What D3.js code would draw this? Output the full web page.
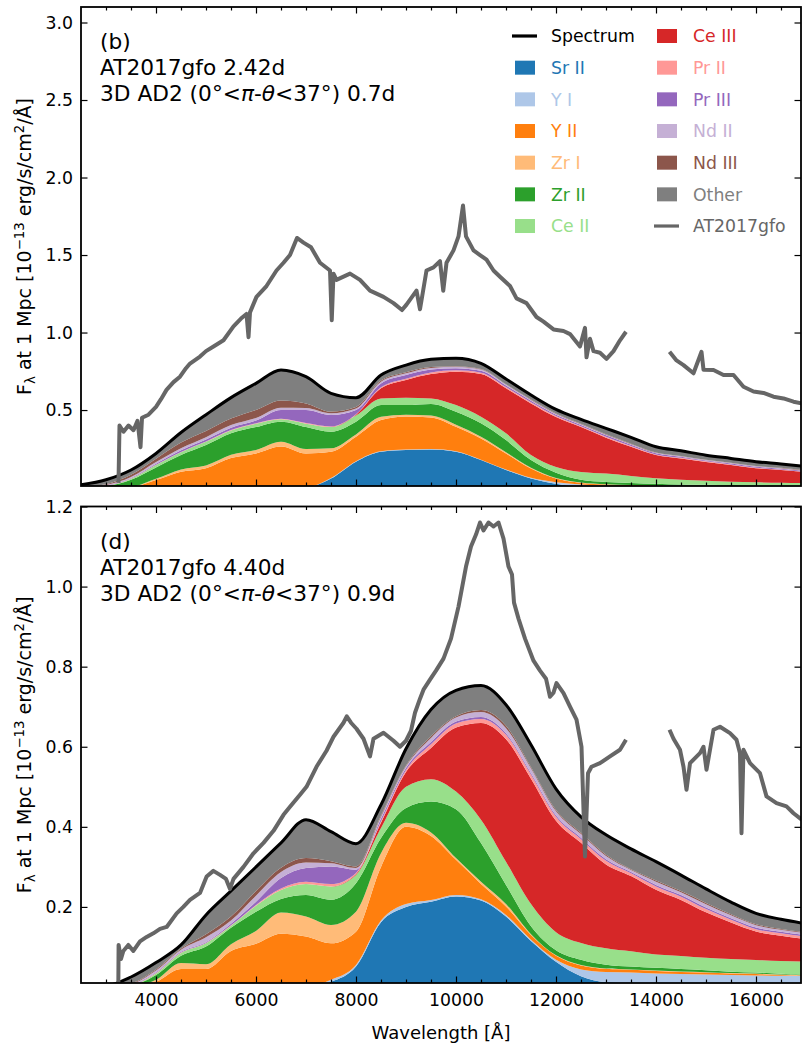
<!DOCTYPE html>
<html>
<head>
<meta charset="utf-8">
<title>Spectra decomposition</title>
<script src="https://d3js.org/d3.v7.min.js"></script>
<style>
body { margin: 0; background: #fff; }
svg text { font-family: "DejaVu Sans", Verdana, sans-serif; }
.tick text { font-size: 17.3px; }
</style>
</head>
<body>
<svg id="chart" width="802" height="1047"></svg>
<script>
// model wavelength grid (Angstrom)
var wave = [2500, 3000, 3500, 4000, 4500, 5000, 5500, 6000, 6500, 7000,
            7500, 8000, 8500, 9000, 9500, 10000, 10500, 11000, 11500, 12000,
            12500, 13000, 13500, 14000, 14500, 15000, 15500, 16000, 16500, 17000];

var ions = ["Sr II", "Y I", "Y II", "Zr I", "Zr II", "Ce II", "Ce III", "Pr II", "Pr III", "Nd II", "Nd III", "Other"];
var ionColors = ["#1f77b4", "#aec7e8", "#ff7f0e", "#ffbb78", "#2ca02c", "#98df8a",
                 "#d62728", "#ff9896", "#9467bd", "#c5b0d5", "#8c564b", "#7f7f7f"];

// panel (b): contribution of each ion, 1e-13 erg/s/cm2/A
var srII_b   = [0,0,0,0,0,0,0,0,0,0.002,0.058,0.167,0.231,0.242,0.246,0.231,0.177,0.113,0.059,0.025,0.005,0.001,0,0,0,0,0,0,0,0];
var yI_b     = [0,0,0,0,0,0,0,0,0,0,0.003,0.003,0.003,0.003,0.003,0.003,0.003,0.004,0.005,0.010,0.015,0.011,0.010,0.009,0.008,0.007,0.006,0.006,0.005,0.005];
var yII_b    = [0,0,0.003,0.048,0.102,0.125,0.190,0.220,0.265,0.218,0.170,0.158,0.201,0.213,0.203,0.158,0.137,0.103,0.059,0.023,0.010,0.008,0.006,0.004,0.003,0.003,0.003,0.002,0.002,0.002];
var zrI_b    = [0,0,0.002,0.008,0.015,0.018,0.022,0.022,0.030,0.028,0.022,0.015,0.021,0.011,0.012,0.013,0.011,0.008,0.005,0.004,0.002,0.001,0.001,0.001,0.001,0.001,0.001,0.001,0.001,0.001];
var zrII_b   = [0.002,0.010,0.045,0.074,0.093,0.131,0.138,0.148,0.130,0.142,0.107,0.082,0.076,0.063,0.075,0.084,0.086,0.078,0.049,0.033,0.018,0.015,0.013,0.011,0.008,0.007,0.006,0.005,0.004,0.003];
var ceII_b   = [0,0.002,0.007,0.015,0.018,0.021,0.018,0.022,0.015,0.022,0.030,0.040,0.043,0.048,0.036,0.043,0.043,0.044,0.033,0.037,0.050,0.054,0.045,0.035,0.030,0.026,0.022,0.020,0.019,0.018];
var ceIII_b  = [0,0,0,0,0,0,0,0,0,0,0,0.005,0.065,0.114,0.157,0.215,0.275,0.290,0.333,0.323,0.290,0.232,0.188,0.150,0.138,0.121,0.107,0.090,0.082,0.069];
var prII_b   = [0,0,0.001,0.002,0.002,0.002,0.003,0.003,0.004,0.004,0.004,0.003,0.007,0.008,0.010,0.009,0.009,0.008,0.007,0.007,0.006,0.006,0.005,0.004,0.004,0.004,0.004,0.004,0.003,0.003];
var prIII_b  = [0,0.003,0.004,0.006,0.010,0.013,0.015,0.017,0.056,0.084,0.074,0.027,0.025,0.024,0.019,0.014,0.012,0.010,0.010,0.008,0.008,0.009,0.008,0.007,0.007,0.006,0.006,0.006,0.006,0.005];
var ndII_b   = [0.001,0.002,0.006,0.012,0.014,0.015,0.017,0.016,0.015,0.013,0.011,0.010,0.011,0.011,0.011,0.009,0.008,0.006,0.005,0.005,0.004,0.004,0.004,0.003,0.003,0.003,0.003,0.003,0.003,0.003];
var ndIII_b  = [0.001,0.005,0.014,0.020,0.036,0.040,0.042,0.052,0.047,0.030,0.011,0.010,0.007,0.006,0.005,0.004,0.004,0.003,0.003,0.003,0.003,0.003,0.003,0.002,0.002,0.002,0.002,0.002,0.002,0.002];
var other_b  = [0.014,0.028,0.031,0.035,0.065,0.105,0.135,0.172,0.196,0.172,0.118,0.060,0.036,0.047,0.050,0.051,0.036,0.033,0.029,0.026,0.029,0.038,0.041,0.037,0.033,0.029,0.028,0.028,0.025,0.024];

// panel (d)
var srII_d   = [0,0,0,0,0,0,0,0,0,0.001,0.013,0.051,0.162,0.200,0.213,0.226,0.216,0.176,0.115,0.063,0.027,0.0125,0.011,0.010,0.008,0.007,0.006,0.005,0.004,0.004];
var yI_d     = [0,0,0,0,0,0,0,0,0,0,0.005,0.004,0.004,0.007,0.004,0.004,0.003,0.004,0.003,0.005,0.017,0.025,0.025,0.024,0.0245,0.024,0.024,0.024,0.024,0.0235];
var yII_d    = [0,0,0.001,0.013,0.045,0.045,0.090,0.108,0.133,0.125,0.091,0.083,0.134,0.193,0.160,0.0875,0.0385,0.021,0.012,0.010,0.010,0.008,0.007,0.006,0.005,0.005,0.004,0.0035,0.002,0.001];
var zrI_d    = [0,0,0,0.005,0.015,0.012,0.017,0.032,0.053,0.050,0.046,0.050,0.034,0.010,0.009,0.0045,0.0055,0.0065,0.002,0.001,0.001,0.001,0.001,0.001,0.001,0.001,0.001,0.001,0.001,0.0005];
var zrII_d   = [0,0,0.003,0.012,0.018,0.044,0.041,0.048,0.034,0.054,0.063,0.071,0.038,0.037,0.077,0.122,0.0965,0.0475,0.020,0.013,0.013,0.009,0.007,0.007,0.0065,0.005,0.003,0.0025,0.002,0.0015];
var ceII_d   = [0,0,0.001,0.004,0.007,0.008,0.005,0.015,0.022,0.027,0.033,0.021,0.025,0.053,0.056,0.044,0.0585,0.058,0.055,0.045,0.042,0.041,0.038,0.033,0.0325,0.031,0.032,0.0315,0.032,0.033];
var ceIII_d  = [0,0,0,0,0,0,0,0,0,0,0,0.002,0.013,0.037,0.078,0.160,0.2415,0.306,0.313,0.278,0.250,0.2095,0.188,0.162,0.140,0.1135,0.091,0.071,0.063,0.056];
var prII_d   = [0,0,0,0.001,0.001,0.001,0.001,0.002,0.004,0.006,0.006,0.003,0.004,0.005,0.009,0.010,0.010,0.011,0.010,0.010,0.009,0.009,0.007,0.008,0.008,0.008,0.007,0.006,0.006,0.006];
var prIII_d  = [0,0,0.001,0.002,0.002,0.002,0.004,0.008,0.026,0.034,0.044,0.008,0.006,0.005,0.006,0.005,0.005,0.004,0.004,0.004,0.004,0.004,0.003,0.004,0.004,0.004,0.004,0.004,0.004,0.004];
var ndII_d   = [0,0,0.001,0.004,0.005,0.012,0.008,0.015,0.015,0.014,0.008,0.004,0.005,0.004,0.010,0.010,0.012,0.0125,0.012,0.010,0.009,0.008,0.005,0.008,0.007,0.008,0.007,0.006,0.005,0.005];
var ndIII_d  = [0,0,0.002,0.003,0.003,0.008,0.010,0.012,0.011,0.011,0.005,0.004,0.003,0.002,0.004,0.003,0.005,0.006,0.003,0.003,0.003,0.003,0.002,0.003,0.003,0.0035,0.003,0.0025,0.002,0.002];
var other_d  = [0,0.003,0.016,0.017,0.009,0.048,0.064,0.060,0.062,0.096,0.074,0.057,0.027,0.042,0.067,0.065,0.0615,0.0525,0.056,0.053,0.040,0.050,0.051,0.047,0.040,0.035,0.030,0.027,0.024,0.0215];

// observed AT2017gfo spectra (null = gap between bands)
var obsWave_b = [3250,3270,3350,3450,3550,3630,3690,3720,3850,4000,4100,4210,4350,4480,4600,4680,4880,5000,5150,5350,5550,5700,5810,5850,5880,6010,6210,6410,6550,6680,6820,6950,7100,7280,7480,7515,7550,7610,7880,8080,8280,8550,8750,8920,9010,9210,9280,9410,9550,9680,9745,9810,9950,10050,10140,10200,10350,10480,10610,10750,10880,11080,11210,11410,11610,11750,11950,12150,12280,12480,12580,12610,12680,12750,12880,13010,13150,13280,13400,13800,14270,14410,14550,14750,14910,14950,15150,15350,15550,15750,15950,16150,16350,16550,16750,16920];
var obsFlux_b = [0.03,0.40,0.36,0.40,0.37,0.43,0.26,0.45,0.47,0.52,0.57,0.63,0.68,0.715,0.77,0.80,0.845,0.88,0.91,0.95,1.04,1.09,1.12,0.97,1.13,1.23,1.30,1.40,1.45,1.50,1.61,1.58,1.55,1.45,1.40,1.08,1.38,1.34,1.38,1.34,1.27,1.23,1.19,1.145,1.18,1.27,1.15,1.40,1.42,1.46,1.27,1.45,1.53,1.62,1.82,1.62,1.53,1.50,1.47,1.40,1.36,1.30,1.22,1.19,1.10,1.07,1.02,1.01,0.99,0.91,1.03,0.84,0.96,0.88,0.87,0.83,0.88,0.95,1.005,null,0.876,0.82,0.79,0.737,0.876,0.76,0.758,0.726,0.726,0.65,0.62,0.61,0.586,0.575,0.554,0.543];

var obsWave_d = [3247,3252,3300,3347,3447,3547,3680,3813,3947,4080,4213,4413,4547,4680,4880,5013,5147,5280,5400,5480,5550,5750,5950,6150,6350,6550,6680,6880,7010,7210,7410,7550,7750,7815,7900,8010,8150,8280,8350,8550,8750,8880,9000,9100,9180,9280,9350,9480,9600,9750,9900,10050,10200,10300,10400,10480,10550,10650,10750,10850,10950,11050,11120,11160,11250,11380,11550,11680,11800,11880,11950,12010,12150,12280,12410,12510,12580,12640,12710,12880,13080,13280,13400,13800,14270,14350,14480,14550,14610,14680,14880,14950,15010,15150,15280,15480,15610,15680,15710,15750,15880,16080,16210,16410,16610,16750,16920];
var obsFlux_d = [0.01,0.105,0.07,0.09,0.105,0.09,0.114,0.125,0.134,0.145,0.15,0.184,0.20,0.2175,0.235,0.276,0.29,0.28,0.27,0.245,0.27,0.30,0.334,0.36,0.39,0.43,0.45,0.48,0.50,0.55,0.59,0.625,0.66,0.676,0.66,0.645,0.62,0.576,0.62,0.635,0.615,0.60,0.615,0.64,0.685,0.72,0.7425,0.7675,0.79,0.82,0.87,0.95,1.05,1.10,1.13,1.16,1.14,1.16,1.15,1.16,1.12,1.05,1.03,0.96,0.92,0.87,0.815,0.79,0.77,0.725,0.735,0.759,0.734,0.70,0.6675,0.60,0.326,0.534,0.55,0.559,0.5758,0.5925,0.6175,null,0.6425,0.62,0.5925,0.55,0.4925,0.559,0.584,0.60,0.5425,0.6425,0.65,0.634,0.6175,0.584,0.384,0.5925,0.559,0.534,0.476,0.459,0.451,0.434,0.4175];

// ticks
var xMajorTicks = [4000, 6000, 8000, 10000, 12000, 14000, 16000];
var xMinorTicks = [3000, 3500, 4500, 5000, 5500, 6500, 7000, 7500, 8500, 9000, 9500, 10500, 11000, 11500, 12500, 13000, 13500, 14500, 15000, 15500, 16500];
var yTicks_b = [0.5, 1.0, 1.5, 2.0, 2.5, 3.0];
var yTicks_d = [0.2, 0.4, 0.6, 0.8, 1.0, 1.2];

var legendLeft = ["Spectrum", "Sr II", "Y I", "Y II", "Zr I", "Zr II", "Ce II"];
var legendRight = ["Ce III", "Pr II", "Pr III", "Nd II", "Nd III", "Other", "AT2017gfo"];

var obsColor = "#666666";
var svg = d3.select("#chart");
var left = 81, right = 801;
var x = d3.scaleLinear().domain([2500, 16900]).range([left, right]);

function drawPanel(p) {
  var y = d3.scaleLinear().domain(p.yDomain).range([p.bottom, p.top]);

  svg.append("clipPath").attr("id", "clip-" + p.name)
    .append("rect")
      .attr("x", left).attr("y", p.top)
      .attr("width", right - left).attr("height", p.bottom - p.top);

  var rows = wave.map(function(w, i) {
    var r = {wave: w};
    ions.forEach(function(k, j) { r[k] = p.layers[j][i]; });
    return r;
  });
  var series = d3.stack().keys(ions)(rows);

  var plot = svg.append("g").attr("clip-path", "url(#clip-" + p.name + ")");

  var area = d3.area()
      .curve(d3.curveMonotoneX)
      .x(function(d) { return x(d.data.wave); })
      .y0(function(d) { return y(d[0]); })
      .y1(function(d) { return y(d[1]); });

  plot.selectAll(".layer")
    .data(series)
    .enter().append("path")
      .attr("class", "layer")
      .attr("fill", function(d, i) { return ionColors[i]; })
      .attr("d", area);

  // total model spectrum = top of the stack
  var total = series[series.length - 1];
  plot.append("path")
      .datum(total)
      .attr("fill", "none")
      .attr("stroke", "#000")
      .attr("stroke-width", 3)
      .attr("stroke-linejoin", "round")
      .attr("d", d3.line()
        .curve(d3.curveMonotoneX)
        .x(function(d) { return x(d.data.wave); })
        .y(function(d) { return y(d[1]); }));

  var obs = p.obsWave.map(function(w, i) { return [w, p.obsFlux[i]]; });
  plot.append("path")
      .datum(obs)
      .attr("fill", "none")
      .attr("stroke", obsColor)
      .attr("stroke-width", 4)
      .attr("stroke-linejoin", "round")
      .attr("d", d3.line()
        .defined(function(d) { return d[1] !== null; })
        .x(function(d) { return x(d[0]); })
        .y(function(d) { return y(d[1]); }));

  // axes, ticks pointing inwards on all four sides
  function styleAxis(g) {
    g.select(".domain").remove();
    g.attr("font-size", null).attr("font-family", null);
    g.selectAll(".tick line").attr("stroke", "#000").attr("stroke-width", 1.2);
    g.selectAll(".tick text").attr("fill", "#000");
  }

  svg.append("g")
      .attr("transform", "translate(0," + p.bottom + ")")
      .call(d3.axisBottom(x).tickValues(xMajorTicks).tickSize(-6.5).tickPadding(11)
        .tickFormat(p.xLabels ? d3.format("d") : ""))
      .call(styleAxis);
  svg.append("g")
      .attr("transform", "translate(0," + p.bottom + ")")
      .call(d3.axisBottom(x).tickValues(xMinorTicks).tickSize(-3.5).tickFormat(""))
      .call(styleAxis);
  svg.append("g")
      .attr("transform", "translate(0," + p.top + ")")
      .call(d3.axisTop(x).tickValues(xMajorTicks).tickSize(-6.5).tickFormat(""))
      .call(styleAxis);
  svg.append("g")
      .attr("transform", "translate(0," + p.top + ")")
      .call(d3.axisTop(x).tickValues(xMinorTicks).tickSize(-3.5).tickFormat(""))
      .call(styleAxis);
  svg.append("g")
      .attr("transform", "translate(" + left + ",0)")
      .call(d3.axisLeft(y).tickValues(p.yTicks).tickSize(-6.5).tickPadding(8).tickFormat(d3.format(".1f")))
      .call(styleAxis);
  svg.append("g")
      .attr("transform", "translate(" + right + ",0)")
      .call(d3.axisRight(y).tickValues(p.yTicks).tickSize(-6.5).tickFormat(""))
      .call(styleAxis);

  svg.append("rect")
      .attr("x", left).attr("y", p.top)
      .attr("width", right - left).attr("height", p.bottom - p.top)
      .attr("fill", "none").attr("stroke", "#000").attr("stroke-width", 1.8);

  // y label
  var yl = svg.append("text")
      .attr("transform", "translate(31," + ((p.top + p.bottom) / 2) + ") rotate(-90)")
      .attr("text-anchor", "middle")
      .attr("font-size", 19);
  yl.append("tspan").text("F");
  yl.append("tspan").attr("font-size", 13.3).attr("dy", 4).text("λ");
  yl.append("tspan").attr("dy", -4).text(" at 1 Mpc [10");
  yl.append("tspan").attr("font-size", 13.3).attr("dy", -7).text("−13");
  yl.append("tspan").attr("dy", 7).text(" erg/s/cm");
  yl.append("tspan").attr("font-size", 13.3).attr("dy", -7).text("2");
  yl.append("tspan").attr("dy", 7).text("/Å]");

  // annotation
  var ann = svg.append("g").attr("font-size", 21.7);
  ann.append("text").attr("x", 100).attr("y", p.top + 42).text(p.tag);
  ann.append("text").attr("x", 100).attr("y", p.top + 68).text(p.obsLabel);
  var l3 = ann.append("text").attr("x", 100).attr("y", p.top + 94);
  l3.append("tspan").text("3D AD2 (0°<");
  l3.append("tspan").attr("font-style", "italic").text("π");
  l3.append("tspan").text("-");
  l3.append("tspan").attr("font-style", "italic").text("θ");
  l3.append("tspan").text("<37°) " + p.modelTime);
}

drawPanel({
  name: "b", top: 7, bottom: 486, yDomain: [0.01, 3.1], yTicks: yTicks_b, xLabels: false,
  layers: [srII_b, yI_b, yII_b, zrI_b, zrII_b, ceII_b, ceIII_b, prII_b, prIII_b, ndII_b, ndIII_b, other_b],
  obsWave: obsWave_b, obsFlux: obsFlux_b,
  tag: "(b)", obsLabel: "AT2017gfo 2.42d", modelTime: "0.7d"
});

drawPanel({
  name: "d", top: 506.5, bottom: 983, yDomain: [0.01, 1.2], yTicks: yTicks_d, xLabels: true,
  layers: [srII_d, yI_d, yII_d, zrI_d, zrII_d, ceII_d, ceIII_d, prII_d, prIII_d, ndII_d, ndIII_d, other_d],
  obsWave: obsWave_d, obsFlux: obsFlux_d,
  tag: "(d)", obsLabel: "AT2017gfo 4.40d", modelTime: "0.9d"
});

svg.append("text")
    .attr("x", (left + right) / 2).attr("y", 1039)
    .attr("text-anchor", "middle").attr("font-size", 18)
    .text("Wavelength [Å]");

// legend (top panel)
var leg = svg.append("g").attr("font-size", 17.3);
function legendColumn(labels, sx, tx) {
  labels.forEach(function(lab, i) {
    var cy = 36 + i * 31.67;
    var color;
    if (lab === "Spectrum") {
      color = "#000";
      leg.append("line").attr("x1", sx - 3).attr("x2", sx + 22).attr("y1", cy).attr("y2", cy)
        .attr("stroke", color).attr("stroke-width", 3.2);
    } else if (lab === "AT2017gfo") {
      color = obsColor;
      leg.append("line").attr("x1", sx - 3).attr("x2", sx + 22).attr("y1", cy).attr("y2", cy)
        .attr("stroke", color).attr("stroke-width", 3.2);
    } else {
      color = ionColors[ions.indexOf(lab)];
      leg.append("rect").attr("x", sx).attr("y", cy - 7).attr("width", 20).attr("height", 14)
        .attr("fill", color);
    }
    leg.append("text").attr("x", tx).attr("y", cy).attr("dy", "0.36em")
      .attr("fill", color).text(lab);
  });
}
legendColumn(legendLeft, 515, 551);
legendColumn(legendRight, 657, 693);
</script>
</body>
</html>
